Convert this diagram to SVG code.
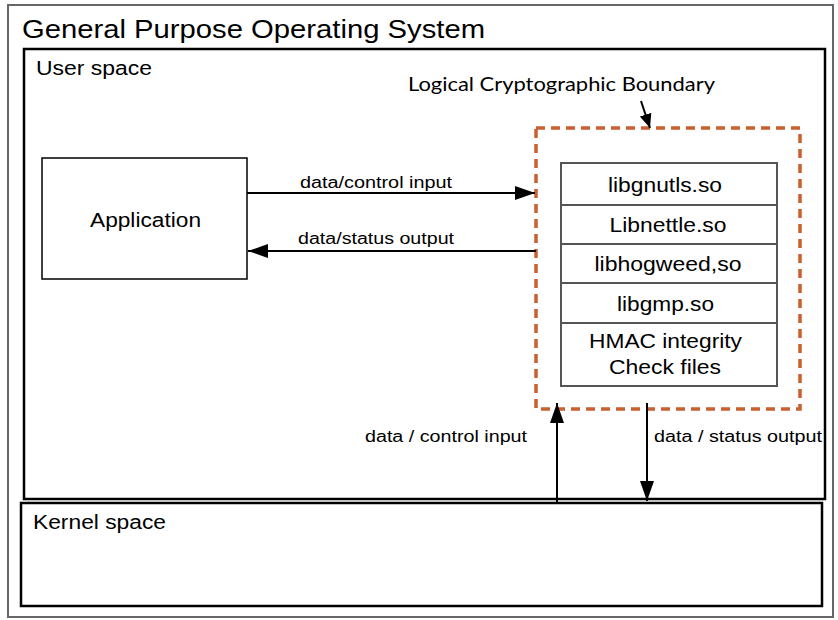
<svg xmlns="http://www.w3.org/2000/svg" width="838" height="620" viewBox="0 0 838 620">
<style>
text{font-family:"Liberation Sans",Arial,sans-serif;fill:#000}
.t20{font-size:20px}
.t16{font-size:16px}
.box{fill:#fff;stroke:#000;stroke-width:2.5}
.lib{fill:#fff;stroke:#555;stroke-width:2}
.conn{stroke:#000;stroke-width:2;fill:none}
.mid{text-anchor:middle}
</style>
<defs>
<marker id="ah" markerUnits="userSpaceOnUse" markerWidth="20" markerHeight="14" viewBox="0 0 20 14" refX="20" refY="7" orient="auto">
<path d="M0,0 L20,7 L0,14 Z" fill="#000"/>
</marker>
<marker id="ahs" markerUnits="userSpaceOnUse" markerWidth="14" markerHeight="14" viewBox="0 0 14 14" refX="14" refY="7" orient="auto">
<path d="M0,1 L14,7 L0,13 Z" fill="#000"/>
</marker>
</defs>
<rect width="838" height="620" fill="#fff"/>
<g id="os">
<rect x="8" y="5" width="825" height="612" fill="#fff" stroke="#666" stroke-width="2"/>
<text x="22" y="38" style="font-size:26px" textLength="463" lengthAdjust="spacingAndGlyphs">General Purpose Operating System</text>
</g>
<g id="user-space">
<rect x="24" y="49" width="801" height="450" class="box"/>
<text x="36" y="75" class="t20" textLength="116" lengthAdjust="spacingAndGlyphs">User space</text>
</g>
<g id="kernel-space">
<rect x="21" y="503" width="801" height="103" class="box"/>
<text x="33" y="529" class="t20" textLength="133" lengthAdjust="spacingAndGlyphs">Kernel space</text>
</g>
<g id="application">
<rect x="42" y="158" width="205" height="121" fill="#fff" stroke="#000" stroke-width="1.5"/>
<text x="145.5" y="227" class="t20 mid" textLength="111" lengthAdjust="spacingAndGlyphs">Application</text>
</g>
<g id="boundary">
<rect x="536" y="128" width="264" height="281" fill="none" stroke="#c8602f" stroke-width="3.5" stroke-dasharray="9 6"/>
<text x="408" y="91" style="font-family:Lato,'Open Sans',sans-serif;font-size:20px" textLength="307" lengthAdjust="spacingAndGlyphs">Logical Cryptographic Boundary</text>
</g>
<g id="libgnutls">
<rect x="561" y="163" width="216" height="42" class="lib"/>
<text x="665" y="192" class="t20 mid" textLength="114" lengthAdjust="spacingAndGlyphs">libgnutls.so</text>
</g>
<g id="libnettle">
<rect x="561" y="205" width="216" height="39" class="lib"/>
<text x="668" y="232" class="t20 mid" textLength="117" lengthAdjust="spacingAndGlyphs">Libnettle.so</text>
</g>
<g id="libhogweed">
<rect x="561" y="244" width="216" height="39" class="lib"/>
<text x="668" y="271" class="t20 mid" textLength="147" lengthAdjust="spacingAndGlyphs">libhogweed,so</text>
</g>
<g id="libgmp">
<rect x="561" y="283" width="216" height="40" class="lib"/>
<text x="665.5" y="311" class="t20 mid" textLength="97" lengthAdjust="spacingAndGlyphs">libgmp.so</text>
</g>
<g id="hmac">
<rect x="561" y="323" width="216" height="63" class="lib"/>
<text x="665.5" y="348" class="t20 mid" textLength="153" lengthAdjust="spacingAndGlyphs">HMAC integrity</text>
<text x="665" y="374" class="t20 mid" textLength="112" lengthAdjust="spacingAndGlyphs">Check files</text>
</g>
<g id="connectors">
<line x1="641" y1="101" x2="650" y2="128" stroke="#000" stroke-width="2" marker-end="url(#ahs)"/>
<line x1="247" y1="193" x2="535" y2="193" class="conn" marker-end="url(#ah)"/>
<text x="300" y="188" class="t16" textLength="152" lengthAdjust="spacingAndGlyphs">data/control input</text>
<line x1="536" y1="251" x2="248" y2="251" class="conn" marker-end="url(#ah)"/>
<text x="298" y="244" class="t16" textLength="156" lengthAdjust="spacingAndGlyphs">data/status output</text>
<line x1="557" y1="503" x2="557" y2="403" class="conn" marker-end="url(#ah)"/>
<text x="365" y="442" class="t16" textLength="162" lengthAdjust="spacingAndGlyphs">data / control input</text>
<line x1="647" y1="403" x2="647" y2="501" class="conn" marker-end="url(#ah)"/>
<text x="654" y="442" class="t16" textLength="168" lengthAdjust="spacingAndGlyphs">data / status output</text>
</g>
</svg>
